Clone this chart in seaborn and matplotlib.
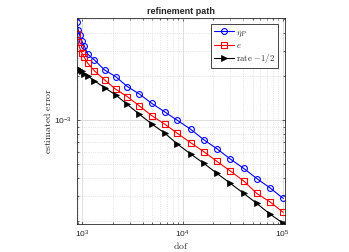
import numpy as np
import pandas as pd
import matplotlib
matplotlib.use("Agg")
import matplotlib.pyplot as plt
import matplotlib.ticker as mticker
import seaborn as sns

# degrees of freedom (shared by all curves)
dof = [883, 908, 939, 984, 1043, 1131, 1320, 1664, 2146, 2806, 3706, 4937,
       6671, 8866, 12066, 16298, 22018, 30018, 40850, 55160, 74560, 101390]

# estimator eta_P
eta_P = [4.70e-3, 4.18e-3, 3.83e-3, 3.51e-3, 3.24e-3, 2.84e-3, 2.59e-3, 2.21e-3,
         1.99e-3, 1.70e-3, 1.51e-3, 1.30e-3, 1.135e-3, 9.95e-4, 8.63e-4, 7.31e-4,
         6.34e-4, 5.38e-4, 4.64e-4, 3.95e-4, 3.41e-4, 2.88e-4]

# error e
err = [3.89e-3, 3.45e-3, 3.14e-3, 2.90e-3, 2.70e-3, 2.46e-3, 2.18e-3, 1.89e-3,
       1.63e-3, 1.45e-3, 1.25e-3, 1.07e-3, 9.34e-4, 8.10e-4, 6.97e-4, 6.05e-4,
       5.19e-4, 4.45e-4, 3.80e-4, 3.12e-4, 2.73e-4, 2.31e-4]

# reference rate -1/2
rate = [2.28e-3, 2.25e-3, 2.21e-3, 2.16e-3, 2.09e-3, 2.01e-3, 1.86e-3, 1.67e-3,
        1.49e-3, 1.28e-3, 1.095e-3, 9.38e-4, 8.10e-4, 6.83e-4, 5.83e-4, 5.03e-4,
        4.29e-4, 3.66e-4, 3.12e-4, 2.66e-4, 2.25e-4, 1.94e-4]

sns.set_style("ticks")
plt.rcParams['font.family'] = ['Liberation Sans', 'DejaVu Sans']
plt.rcParams['mathtext.fontset'] = 'cm'

fig = plt.figure(figsize=(3.49, 2.52), dpi=100)
ax = fig.add_axes([0.2206, 0.111, 0.596, 0.818])

sns.lineplot(x=dof, y=eta_P, ax=ax, color='#0000ff', lw=0.8, marker='o', ms=4.2,
             mfc='none', mec='#0000ff', mew=0.8, label=r'$\eta_P$')
sns.lineplot(x=dof, y=err, ax=ax, color='#ff0000', lw=0.8, marker='s', ms=3.8,
             mfc='none', mec='#ff0000', mew=0.8, label=r'$e$')
sns.lineplot(x=dof, y=rate, ax=ax, color='black', lw=0.8, marker='>', ms=4.8,
             mfc='black', mec='black', mew=0.5, label=r'$\mathrm{rate}\ {-1/2}$')

ax.set_xscale('log')
ax.set_yscale('log')
ax.set_xlim(dof[0], 1.055e5)
ax.set_ylim(1.92e-4, 5.05e-3)

ax.yaxis.set_minor_formatter(mticker.NullFormatter())
ax.xaxis.set_minor_formatter(mticker.NullFormatter())
ax.xaxis.set_minor_locator(mticker.LogLocator(subs=np.arange(2, 10)))
ax.yaxis.set_minor_locator(mticker.LogLocator(subs=np.arange(2, 10)))

ax.grid(True, which='major', color='#d9d9d9', lw=0.6, ls='-')
ax.grid(True, which='minor', color='#d9d9d9', lw=0.6, ls=':')
ax.set_axisbelow(True)

ax.tick_params(which='both', direction='in', top=True, right=True,
               labelsize=6, colors='#262626', length=2.5, width=0.5)
ax.tick_params(which='minor', length=1.5)
for s in ax.spines.values():
    s.set_color('#262626')
    s.set_linewidth(0.6)

ax.set_title('refinement path', fontsize=6.5, fontweight='bold', pad=2.5)
ax.set_xlabel(r'$\mathrm{dof}$', fontsize=7, labelpad=0)
ax.set_ylabel(r'$\mathrm{estimated\ error}$', fontsize=7, labelpad=1)

leg = ax.legend(loc='upper right', fontsize=6.3, fancybox=False, framealpha=1,
                edgecolor='#262626', handlelength=2.3, borderpad=0.35,
                labelspacing=0.25, handletextpad=0.25, borderaxespad=0.75)
leg.get_frame().set_linewidth(0.6)

fig.savefig('out.png', dpi=100)
